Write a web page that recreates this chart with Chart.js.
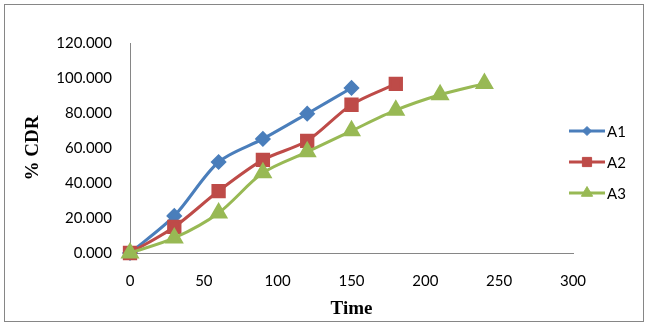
<!DOCTYPE html>
<html lang="en">
  <head>
    <meta charset="UTF-8" />
    <title>% CDR vs Time</title>
    <style>
      html,
      body {
        margin: 0;
        padding: 0;
        background: #ffffff;
      }
      .chart-box {
        position: relative;
        width: 651px;
        height: 330px;
      }
      .frame {
        position: absolute;
        left: 4px;
        top: 4px;
        width: 640px;
        height: 318px;
        border: 1px solid #868686;
        box-sizing: border-box;
        pointer-events: none;
      }
    </style>
  </head>
  <body>
    <div class="chart-box">
      <canvas id="cdrChart" width="651" height="330"></canvas>
      <div class="frame"></div>
    </div>

    <script src="https://cdn.jsdelivr.net/npm/chart.js"></script>
    <script>
      // release data: time points and % CDR for each batch
      const timeA1 = [0, 30, 60, 90, 120, 150];
      const cdrA1 = [0, 21.2, 52.0, 65.2, 79.6, 94.3];

      const timeA2 = [0, 30, 60, 90, 120, 150, 180];
      const cdrA2 = [0, 14.9, 35.4, 53.2, 64.1, 84.7, 96.6];

      const timeA3 = [0, 30, 60, 90, 120, 150, 180, 210, 240];
      const cdrA3 = [0, 8.6, 22.9, 45.8, 57.8, 69.8, 81.6, 90.4, 96.8];

      const seriesNames = ["A1", "A2", "A3"];
      const seriesColors = ["#4a7ebb", "#be4b48", "#98b954"];
      const seriesMarkers = ["rectRot", "rect", "triangle"];

      const xTicks = [0, 50, 100, 150, 200, 250, 300];
      const yTicks = [0, 20, 40, 60, 80, 100, 120];

      const toPoints = (xs, ys) => xs.map((x, i) => ({ x: x, y: ys[i] }));

      const tickFont = { family: "Lato, 'Open Sans', sans-serif", size: 15 };
      const titleFont = {
        family: "'Liberation Serif', 'Times New Roman', serif",
        size: 19,
        weight: "bold",
      };

      function makeDataset(i, xs, ys, radius) {
        return {
          label: seriesNames[i],
          data: toPoints(xs, ys),
          borderColor: seriesColors[i],
          backgroundColor: seriesColors[i],
          pointBackgroundColor: seriesColors[i],
          pointBorderColor: seriesColors[i],
          pointStyle: seriesMarkers[i],
          pointRadius: radius,
          borderWidth: 3,
          tension: 0.3,
          fill: false,
          order: 3 - i, // later series drawn on top
        };
      }

      // legend on the right: short line with the marker on top, then the name
      const sideLegend = {
        id: "sideLegend",
        afterDraw(chart) {
          const ctx = chart.ctx;
          const x0 = 569;
          const x1 = 605;
          const ys = [131, 162, 193];
          chart.data.datasets.forEach((ds, i) => {
            const y = ys[i];
            ctx.save();
            ctx.strokeStyle = ds.borderColor;
            ctx.lineWidth = 3;
            ctx.beginPath();
            ctx.moveTo(x0, y);
            ctx.lineTo(x1, y);
            ctx.stroke();
            ctx.fillStyle = ds.backgroundColor;
            ctx.strokeStyle = ds.borderColor;
            ctx.lineWidth = 1;
            Chart.helpers.drawPoint(
              ctx,
              { pointStyle: ds.pointStyle, radius: ds.pointRadius - 1.5, rotation: 0, borderWidth: 1 },
              (x0 + x1) / 2,
              y
            );
            ctx.fillStyle = "#000000";
            ctx.font = "15px Lato, 'Open Sans', sans-serif";
            ctx.textBaseline = "middle";
            ctx.textAlign = "left";
            ctx.fillText(ds.label, x1 + 2, y + 1);
            ctx.restore();
          });
        },
      };

      new Chart(document.getElementById("cdrChart"), {
        type: "line",
        data: {
          datasets: [
            makeDataset(0, timeA1, cdrA1, 6),
            makeDataset(1, timeA2, cdrA2, 8),
            makeDataset(2, timeA3, cdrA3, 8),
          ],
        },
        options: {
          responsive: false,
          animation: false,
          clip: false,
          layout: { padding: { top: 43, right: 78, bottom: 0, left: 0 } },
          plugins: {
            legend: { display: false },
            tooltip: { enabled: false },
          },
          scales: {
            x: {
              type: "linear",
              min: 0,
              max: 300,
              afterBuildTicks: (scale) => {
                scale.ticks = xTicks.map((v) => ({ value: v }));
              },
              afterFit: (scale) => {
                scale.height = 77;
              },
              grid: { display: false, drawTicks: false },
              border: { color: "#868686", width: 1 },
              ticks: { color: "#000000", font: tickFont, padding: 19 },
              title: {
                display: true,
                text: "Time",
                color: "#000000",
                font: titleFont,
                padding: { top: 2, bottom: 10 },
              },
            },
            y: {
              min: 0,
              max: 120,
              afterBuildTicks: (scale) => {
                scale.ticks = yTicks.map((v) => ({ value: v }));
              },
              afterFit: (scale) => {
                scale.width = 130;
              },
              grid: { display: false, drawTicks: false },
              border: { color: "#868686", width: 1 },
              ticks: {
                color: "#000000",
                font: tickFont,
                padding: 18,
                callback: (v) => v.toFixed(3),
              },
              title: {
                display: true,
                text: "% CDR",
                color: "#000000",
                font: titleFont,
                padding: { top: 22, bottom: 0 },
              },
            },
          },
        },
        plugins: [sideLegend],
      });
    </script>
  </body>
</html>
